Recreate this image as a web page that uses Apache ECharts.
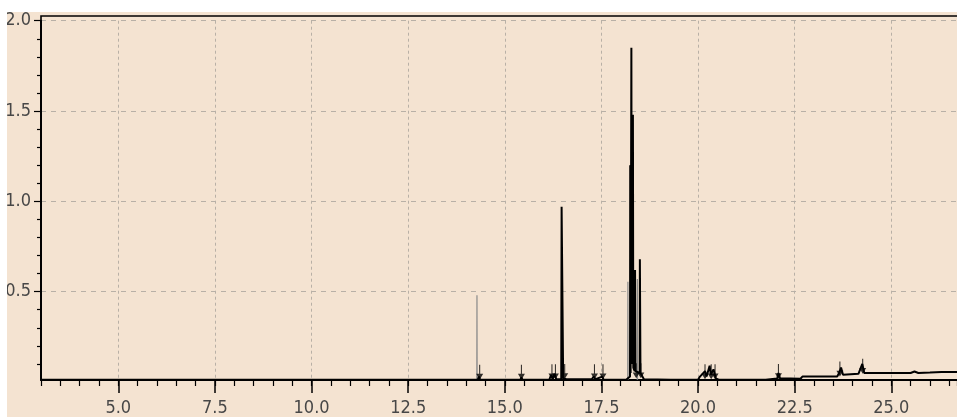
<!DOCTYPE html>
<html><head><meta charset="utf-8">
<script src="https://cdn.jsdelivr.net/npm/echarts@6/dist/echarts.min.js"></script>
<style>
html,body{margin:0;padding:0;background:#fff;width:957px;height:417px;overflow:hidden}
#c{position:absolute;left:7px;top:12px;width:950px;height:405px}
</style>
</head><body><div id="c"></div>
<script>
// tick labels
const xMajorTicks = [5.0, 7.5, 10.0, 12.5, 15.0, 17.5, 20.0, 22.5, 25.0];
const yMajorTicks = [0.5, 1.0, 1.5, 2.0];
const yMinorTicks = [0.1,0.2,0.3,0.4,0.6,0.7,0.8,0.9,1.1,1.2,1.3,1.4,1.6,1.7,1.8,1.9];

// black trace (retention time, min / abundance)
const rt = [3.0, 13.80, 13.85, 13.95, 14.30, 14.33, 14.36, 15.40, 15.43, 15.46,
  16.15, 16.20, 16.24, 16.29, 16.33, 16.46, 16.47, 16.50, 16.51, 16.56, 16.60,
  17.25, 17.30, 17.35, 17.52, 17.56, 18.14, 18.17, 18.24, 18.245, 18.255, 18.27,
  18.275, 18.285, 18.31, 18.315, 18.325, 18.36, 18.37, 18.38, 18.49, 18.495, 18.51,
  18.56, 18.60, 19.30, 19.35, 19.45, 20.00, 20.05, 20.10, 20.18, 20.22, 20.30,
  20.33, 20.40, 20.46, 20.55, 21.75, 21.80, 22.05, 22.08, 22.12, 22.65, 22.70,
  23.60, 23.65, 23.70, 23.75, 24.15, 24.25, 24.30, 25.00, 25.50, 25.60, 25.70,
  26.00, 26.30, 26.70];
const sig = [0.012, 0.012, 0.016, 0.012, 0.012, 0.03, 0.012, 0.012, 0.025, 0.012,
  0.012, 0.04, 0.015, 0.045, 0.015, 0.015, 0.97, 0.97, 0.02, 0.03, 0.015,
  0.015, 0.03, 0.015, 0.03, 0.012, 0.012, 0.02, 0.03, 1.20, 0.05, 0.05,
  1.85, 0.10, 0.10, 1.48, 0.08, 0.06, 0.62, 0.06, 0.05, 0.68, 0.05,
  0.06, 0.015, 0.012, 0.018, 0.012, 0.012, 0.03, 0.02, 0.06, 0.03, 0.09,
  0.04, 0.07, 0.02, 0.012, 0.012, 0.018, 0.02, 0.05, 0.02, 0.018, 0.03,
  0.03, 0.05, 0.08, 0.04, 0.045, 0.10, 0.05, 0.05, 0.05, 0.058, 0.05,
  0.052, 0.055, 0.055];

// gray peaks
const grayRt = [14.28, 18.185, 18.43];
const grayH = [0.48, 0.555, 0.57];
const grayBase = 0.012;

// integration markers
const markRt = [14.35, 15.43, 16.22, 16.31, 16.55, 17.32, 17.54, 18.40, 18.52, 20.18, 20.34, 20.44, 22.08, 23.67, 24.26];
const markY = [0.013, 0.013, 0.015, 0.015, 0.016, 0.015, 0.015, 0.02, 0.02, 0.015, 0.015, 0.015, 0.016, 0.03, 0.045];

const blackData = rt.map((x, i) => [x, sig[i]]);
const grayData = [];
grayRt.forEach((x, i) => {
  grayData.push([x - 0.004, grayBase], [x, grayH[i]], [x + 0.004, grayBase], [null, null]);
});
const markData = markRt.map((x, i) => [x, markY[i]]);

const XMIN = 3.0, XMAX = 26.7, YMIN = 0.011, YMAX = 2.0;
const lblStyle = {color: '#474747', fontFamily: 'DejaVu Sans Condensed, DejaVu Sans, sans-serif', fontSize: 18};
const chart = echarts.init(document.getElementById('c'), null, {renderer: 'canvas'});
chart.setOption({
  backgroundColor: '#f4e3d1',
  animation: false,
  grid: {left: 34, right: 0, top: 8.7, bottom: 37, containLabel: false, outerBoundsMode: 'none'},
  xAxis: [{
    type: 'value', min: XMIN, max: XMAX, position: 'bottom',
    axisLine: {show: true, onZero: false, lineStyle: {color: '#000', width: 2.2}},
    axisTick: {show: true, length: 13, customValues: xMajorTicks, lineStyle: {color: '#000', width: 1.5}},
    axisLabel: {show: true, customValues: xMajorTicks, margin: 19, formatter: v => v.toFixed(1), ...lblStyle},
    splitLine: {show: true, lineStyle: {color: '#b8b0a6', type: [3, 3], width: 1}}
  }, {
    type: 'value', min: XMIN, max: XMAX, interval: 0.5, position: 'bottom',
    axisLine: {show: false},
    axisTick: {show: true, length: 6, lineStyle: {color: '#000', width: 1.2}},
    axisLabel: {show: false},
    splitLine: {show: false}
  }],
  yAxis: [{
    type: 'value', min: YMIN, max: YMAX,
    axisLine: {show: true, onZero: false, lineStyle: {color: '#000', width: 2}},
    axisTick: {show: true, length: 7, customValues: yMajorTicks, lineStyle: {color: '#000', width: 1.2}},
    axisLabel: {show: true, customValues: yMajorTicks, margin: 10, formatter: v => v.toFixed(1), ...lblStyle},
    splitLine: {show: true, lineStyle: {color: '#b8b0a6', type: [5, 5], width: 1}}
  }, {
    type: 'value', min: YMIN, max: YMAX, position: 'left',
    axisLine: {show: false},
    axisTick: {show: true, length: 4, customValues: yMinorTicks, lineStyle: {color: '#000', width: 1.2}},
    axisLabel: {show: false},
    splitLine: {show: false}
  }],
  graphic: [{
    type: 'polyline', z: 100, silent: true,
    shape: {points: [[34, 9], [34, 4], [950, 4]]},
    style: {stroke: '#000', lineWidth: 1.6, fill: null}
  }],
  series: [{
    type: 'line', xAxisIndex: 0, yAxisIndex: 0, data: grayData, showSymbol: false,
    connectNulls: false, lineStyle: {color: '#8a8a8a', width: 1.2}, z: 2
  }, {
    type: 'line', xAxisIndex: 0, yAxisIndex: 0, data: blackData, showSymbol: false,
    lineStyle: {color: '#000', width: 2}, z: 3
  }, {
    type: 'scatter', xAxisIndex: 0, yAxisIndex: 0, data: markData,
    symbol: 'path://M4.4,0H5.6V10H4.4Z M1,8.5H9L5,14Z', symbolSize: [7, 15],
    symbolOffset: [0, '-50%'], itemStyle: {color: '#000'}, z: 4
  }]
});
</script></body></html>
